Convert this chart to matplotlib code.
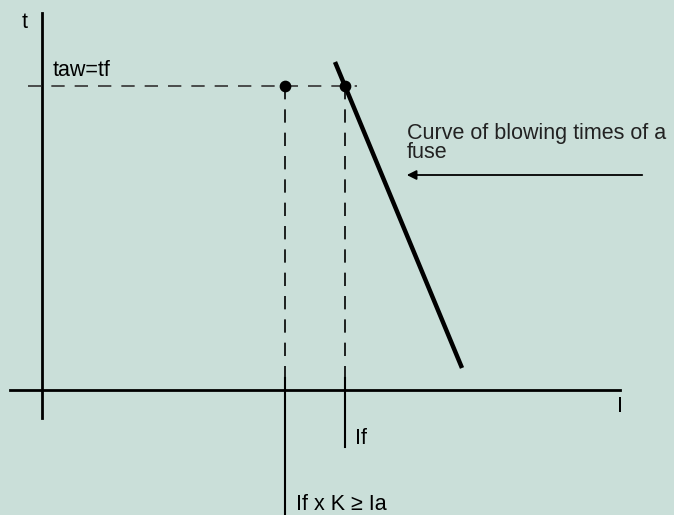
import matplotlib.pyplot as plt

# diagram geometry in image pixels (x right, y down)
t_axis = [42, 13, 418]          # x, y_top, y_bottom
i_axis = [390, 10, 620]         # y, x_left, x_right
tf_level = 86
dash_start = 28
dash_end = 357
point_x = [285, 345]
solid_ends = [515, 447]
curve_x = [335, 462]
curve_y = [62, 368]
arrow_from = [645, 175]
arrow_to = [404, 175]

bg = '#cadfd9'
plt.rcParams['font.family'] = ['Liberation Sans', 'DejaVu Sans']

fig = plt.figure(figsize=(6.74, 5.15), dpi=100, facecolor=bg)
ax = fig.add_axes([0, 0, 1, 1])
ax.set_facecolor(bg)
ax.set_xlim(0, 674)
ax.set_ylim(515, 0)
ax.axis('off')

# axes
ax.plot([t_axis[0], t_axis[0]], [t_axis[1], t_axis[2]], color='black', lw=2)
ax.plot([i_axis[1], i_axis[2]], [i_axis[0], i_axis[0]], color='black', lw=2)

# dashed guides
ax.plot([dash_start, dash_end], [tf_level, tf_level], color='#333333', lw=1.2, dashes=(8, 6))
for px in point_x:
    ax.plot([px, px], [tf_level, i_axis[0]], color='black', lw=1.2, dashes=(8, 6))
for px, yend in zip(point_x, solid_ends):
    ax.plot([px, px], [i_axis[0] - 12, yend], color='black', lw=1.5)

# fuse curve
ax.plot(curve_x, curve_y, color='black', lw=3.2, solid_capstyle='butt')
ax.scatter(point_x, [tf_level] * len(point_x), s=55, color='black', zorder=5)

# arrow
ax.annotate('', xy=arrow_to, xytext=arrow_from,
            arrowprops=dict(arrowstyle='-|>', color='black', lw=1.3, mutation_scale=14))

fs = 15.5
ax.text(25, 23, 't', fontsize=fs, ha='center', va='center')
ax.text(620, 407, 'I', fontsize=fs, ha='center', va='center')
ax.text(53, 70, 'taw=tf', fontsize=fs, ha='left', va='center')
ax.text(355, 439, 'If', fontsize=fs, ha='left', va='center')
ax.text(296, 504, 'If x K \u2265 Ia', fontsize=fs, ha='left', va='center')
ax.text(407, 133, 'Curve of blowing times of a', fontsize=fs, ha='left', va='center', color='#222222')
ax.text(407, 152, 'fuse', fontsize=fs, ha='left', va='center', color='#222222')

fig.savefig('out.png', dpi=100, facecolor=bg)
